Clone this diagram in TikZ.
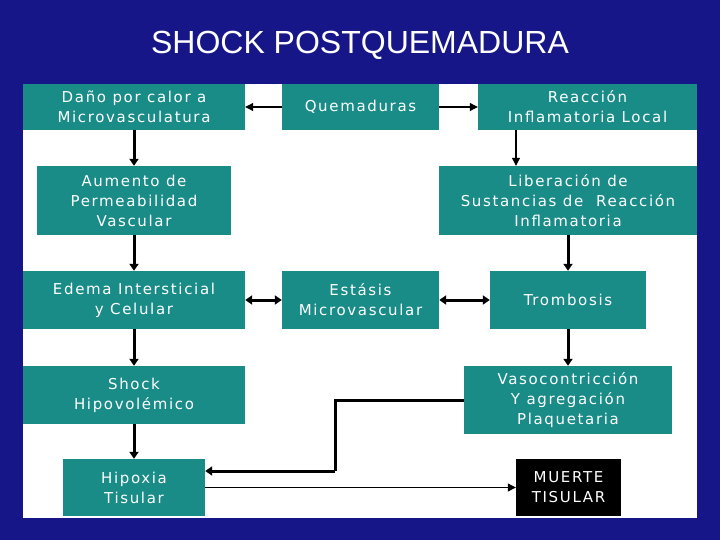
\documentclass[tikz,border=0pt]{standalone}
\usepackage{fontspec}
\usetikzlibrary{arrows.meta}
\newfontfamily\titlefont{Liberation Sans}
\newfontfamily\boxfont{DejaVu Sans}[LetterSpace=11]
\definecolor{bgblue}{HTML}{161689}
\definecolor{boxteal}{HTML}{1A8C88}
\tikzset{
  box/.style={fill=boxteal, text=white, inner sep=0pt, align=center,
    font=\boxfont\fontsize{15}{20}\selectfont},
  blackbox/.style={box, fill=black},
  thinarr/.style={line width=1.1pt, -{Triangle[length=8pt,width=8pt]}},
  thickarr/.style={line width=3pt, -{Triangle[length=7pt,width=9pt]}},
  thickdbl/.style={line width=3pt, {Triangle[length=7pt,width=9pt]}-{Triangle[length=7pt,width=9pt]}},
  thickline/.style={line width=3pt}
}
\begin{document}
\begin{tikzpicture}[x=1pt,y=-1pt]
\useasboundingbox (0,0) rectangle (720,540);
\fill[bgblue] (0,0) rectangle (720,540);
\fill[white] (23,84) rectangle (697,518);
\node[text=white, font=\titlefont\fontsize{32}{38}\selectfont] (title) at (360,45) {SHOCK POSTQUEMADURA};

\node[box, minimum width=222pt, minimum height=46pt] (dano) at (134,107) {Daño por calor a\\Microvasculatura};
\node[box, minimum width=157pt, minimum height=46pt] (quem) at (360.5,107) {Quemaduras};
\node[box, minimum width=219pt, minimum height=46pt] (reac) at (587.5,107) {Reacción\\Inflamatoria Local};
\node[box, minimum width=194pt, minimum height=69pt] (aum) at (134,200.5) {Aumento de\\Permeabilidad\\Vascular};
\node[box, minimum width=258pt, minimum height=69pt] (lib) at (568,200.5) {Liberación de\\Sustancias de\ \ Reacción\\Inflamatoria};
\node[box, minimum width=222pt, minimum height=58pt] (edema) at (134,300) {Edema Intersticial\\y Celular};
\node[box, minimum width=157pt, minimum height=58pt] (estasis) at (360.5,300) {Estásis\\Microvascular};
\node[box, minimum width=156pt, minimum height=58pt] (tromb) at (568,300) {Trombosis};
\node[box, minimum width=222pt, minimum height=58pt] (shock) at (134,395) {Shock\\Hipovolémico};
\node[box, minimum width=208pt, minimum height=68pt] (vaso) at (568,400) {Vasocontricción\\Y agregación\\Plaquetaria};
\node[box, minimum width=142pt, minimum height=57pt] (hipox) at (134,487.5) {Hipoxia\\Tisular};
\node[blackbox, minimum width=105pt, minimum height=57pt] (muerte) at (568.5,487.5) {MUERTE\\TISULAR};

\coordinate (rl) at (516,0);
\coordinate (bend) at (335,471);

\draw[thinarr] (quem.west) -- (dano.east);
\draw[thinarr] (quem.east) -- (reac.west);
\draw[thickarr] (dano.south) -- (aum.north);
\draw[thinarr] (reac.south -| rl) -- (lib.north -| rl);
\draw[thickarr] (aum.south) -- (edema.north);
\draw[thickarr] (lib.south) -- (tromb.north);
\draw[thickdbl] (edema.east) -- (estasis.west);
\draw[thickdbl] (estasis.east) -- (tromb.west);
\draw[thickarr] (edema.south) -- (shock.north);
\draw[thickarr] (tromb.south) -- (vaso.north);
\draw[thickarr] (shock.south) -- (hipox.north);
\draw[thickline] (vaso.west) -| (bend);
\draw[thickarr] (bend) -- (hipox.east |- bend);
\draw[thinarr] (hipox.east) -- (muerte.west);
\end{tikzpicture}
\end{document}
